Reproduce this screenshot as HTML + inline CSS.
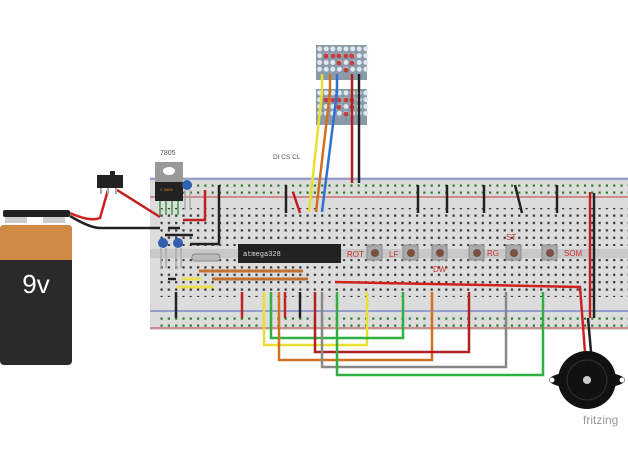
<!DOCTYPE html>
<html><head><style>body{margin:0;background:#fff}svg{display:block}</style></head><body>
<svg width="628" height="472" viewBox="0 0 628 472" xmlns="http://www.w3.org/2000/svg" font-family="Liberation Sans, sans-serif">
<defs>
<pattern id="holes" x="158" y="212" width="7.3" height="7.4" patternUnits="userSpaceOnUse">
<rect x="2.5" y="2.5" width="2.2" height="2.2" fill="#333"/>
</pattern>
<pattern id="rh" x="158" y="0" width="36.5" height="7" patternUnits="userSpaceOnUse">
<rect x="2.5" y="2.5" width="2.2" height="2.2" fill="#2a7a2a"/><rect x="9.8" y="2.5" width="2.2" height="2.2" fill="#2a7a2a"/><rect x="17.1" y="2.5" width="2.2" height="2.2" fill="#2a7a2a"/><rect x="24.4" y="2.5" width="2.2" height="2.2" fill="#2a7a2a"/><rect x="31.7" y="2.5" width="2.2" height="2.2" fill="#2a7a2a"/>
</pattern>
<pattern id="mx" x="316" y="45" width="6.6" height="6.8" patternUnits="userSpaceOnUse">
<circle cx="3.6" cy="3.8" r="2.5" fill="#dde8f0"/>
</pattern>
</defs>
<!-- breadboard -->
<rect x="150" y="177" width="478" height="153" fill="#dcdcdc"/>
<line x1="150" y1="179" x2="628" y2="179" stroke="#5060c0" stroke-width="1"/>
<line x1="150" y1="197" x2="628" y2="197" stroke="#c04040" stroke-width="1"/>
<line x1="150" y1="311" x2="628" y2="311" stroke="#5060c0" stroke-width="1"/>
<line x1="150" y1="328" x2="628" y2="328" stroke="#c04040" stroke-width="1"/>
<rect x="150" y="249" width="478" height="9" fill="#c8c8c8"/>
<rect x="160" y="180" width="468" height="14" fill="url(#rh)"/>
<rect x="160" y="313" width="468" height="14" fill="url(#rh)"/>
<rect x="158" y="208" width="470" height="38" fill="url(#holes)"/>
<rect x="158" y="259" width="470" height="38" fill="url(#holes)"/>
<!-- chip -->
<rect x="238" y="244" width="103" height="19" fill="#222"/>
<text x="243" y="256" font-size="7" fill="#ddd" font-family="Liberation Mono, monospace">atmega328</text>
<rect x="192" y="254" width="28" height="7" rx="3" fill="#bbb" stroke="#888"/>
<!-- buttons -->
<g fill="#aaa" stroke="#888">
<rect x="367" y="245" width="15" height="15"/><rect x="403" y="245" width="15" height="15"/><rect x="432" y="245" width="15" height="15"/><rect x="469" y="245" width="15" height="15"/><rect x="506" y="245" width="15" height="15"/><rect x="542" y="245" width="15" height="15"/>
</g>
<g fill="#7a5040"><circle cx="375" cy="253" r="4"/><circle cx="411" cy="253" r="4"/><circle cx="440" cy="253" r="4"/><circle cx="477" cy="253" r="4"/><circle cx="514" cy="253" r="4"/><circle cx="550" cy="253" r="4"/></g>
<g fill="#d03030" font-size="8"><text x="347" y="257">ROT</text><text x="389" y="257">LF</text><text x="433" y="272">DW</text><text x="487" y="256">RG</text><text x="506" y="240">ST</text><text x="564" y="256">SOM</text></g>
<!-- matrices -->
<rect x="316" y="45" width="51" height="35" fill="#8a9aa8"/>
<rect x="316" y="89" width="51" height="36" fill="#8a9aa8"/>
<rect x="316" y="45" width="53" height="27" fill="url(#mx)"/>
<rect x="316" y="45" width="53" height="27" fill="url(#mx)" transform="translate(0,44)"/>
<g fill="#c04040">
<circle cx="326" cy="56" r="2.5"/><circle cx="333" cy="56" r="2.5"/><circle cx="339" cy="56" r="2.5"/><circle cx="346" cy="56" r="2.5"/><circle cx="352" cy="56" r="2.5"/><circle cx="352" cy="63" r="2.5"/><circle cx="346" cy="70" r="2.5"/><circle cx="339" cy="63" r="2.5"/>
<circle cx="326" cy="100" r="2.5"/><circle cx="333" cy="100" r="2.5"/><circle cx="339" cy="100" r="2.5"/><circle cx="346" cy="100" r="2.5"/><circle cx="352" cy="100" r="2.5"/><circle cx="352" cy="107" r="2.5"/><circle cx="339" cy="107" r="2.5"/><circle cx="346" cy="114" r="2.5"/>
</g>
<!-- wires -->
<g stroke-width="2.5" fill="none">
<path d="M219 185V244M219 244H190" stroke="#222"/>
<path d="M205 190V220H183" stroke="#c02020"/>
<path d="M286 185V213M418 185V213M447 185V213M484 185V213M557 185V213" stroke="#222"/>
<path d="M515 185L522 213" stroke="#222"/>
<path d="M293 192L300 213" stroke="#c02020"/>
<path d="M594 193V318" stroke="#222"/>
<path d="M590 192V318" stroke="#c02020"/>
<path d="M176 292V318M300 292V318" stroke="#222"/>
<path d="M242 292V318M285 292V318" stroke="#c02020"/>
<path d="M199 271H303M212 279H308" stroke="#c07030" stroke-width="3"/>
<path d="M182 279H201M177 287H214" stroke="#e8e050" stroke-width="3"/>
<path d="M168 279H176M168 228H180M165 235H193" stroke="#222"/>
<path d="M322 74V92L309 212" stroke="#e8e030"/>
<path d="M330 74V92L316 212" stroke="#d07020"/>
<path d="M337 74V92L322 212" stroke="#3070d0"/>
<path d="M352 74V183" stroke="#b02020"/>
<path d="M359 74V183" stroke="#222"/>
<path d="M264 292V345H367V292" stroke="#e8e030"/>
<path d="M271 292V338H403V292" stroke="#30b040"/>
<path d="M279 292V360H432V292" stroke="#d07020"/>
<path d="M315 292V352H469V292" stroke="#b02020"/>
<path d="M322 292V367H506V292" stroke="#888"/>
<path d="M337 292V375H543V292" stroke="#30b040"/>
<path d="M335 282L580 287L585 352" stroke="#d02020"/>
<path d="M588 318L591 352" stroke="#222"/>
<path d="M70 213Q90 222 100 218L108 190" stroke="#d02020"/>
<path d="M70 216Q90 228 100 228H160" stroke="#222"/>
<path d="M117 190L160 217" stroke="#c02020"/>
</g>
<!-- regulator -->
<rect x="155" y="162" width="28" height="20" fill="#999"/>
<ellipse cx="169" cy="171" rx="6" ry="4" fill="#fff"/>
<rect x="155" y="182" width="28" height="19" fill="#222"/>
<text x="160" y="191" font-size="4" fill="#d08030">V 3865</text>
<g stroke="#6a6" stroke-width="2"><path d="M160 201V215M166 201V215M172 201V215M178 201V215"/></g>
<text x="160" y="155" font-size="7" fill="#555">7805</text>
<g fill="#3060b0"><circle cx="187" cy="185" r="5"/><circle cx="163" cy="243" r="5"/><circle cx="178" cy="243" r="5"/></g>
<g stroke="#aaa" stroke-width="1.5"><path d="M185 190V210M190 190V210M161 248V268M166 248V268M176 248V268M181 248V268"/></g>
<!-- switch -->
<rect x="97" y="175" width="26" height="13" fill="#222"/><rect x="110" y="171" width="5" height="5" fill="#222"/>
<g stroke="#aaa" stroke-width="2"><path d="M101 188V194M108 188V194M116 188V194"/></g>
<text x="273" y="159" font-size="6.5" fill="#555">DI  CS  CL</text>
<!-- battery -->
<rect x="3" y="210" width="67" height="7" rx="2" fill="#222"/>
<rect x="5" y="217" width="22" height="6" fill="#ccc"/><rect x="43" y="217" width="22" height="6" fill="#ccc"/>
<rect x="0" y="225" width="72" height="140" rx="4" fill="#2a2a2a"/>
<path d="M0 229Q0 225 4 225H68Q72 225 72 229V260H0Z" fill="#d08a45"/>
<text x="36" y="293" font-size="26" fill="#fff" text-anchor="middle">9v</text>
<!-- buzzer -->
<ellipse cx="587" cy="380" rx="38" ry="9" fill="#111"/>
<circle cx="587" cy="380" r="29" fill="#111"/>
<circle cx="587" cy="380" r="20" fill="none" stroke="#333"/>
<circle cx="587" cy="380" r="4" fill="#ccc"/>
<circle cx="552" cy="380" r="2.5" fill="#fff"/><circle cx="622" cy="380" r="2.5" fill="#fff"/>
<text x="583" y="424" font-size="12" fill="#999">fritzing</text>
</svg>
</body></html>
